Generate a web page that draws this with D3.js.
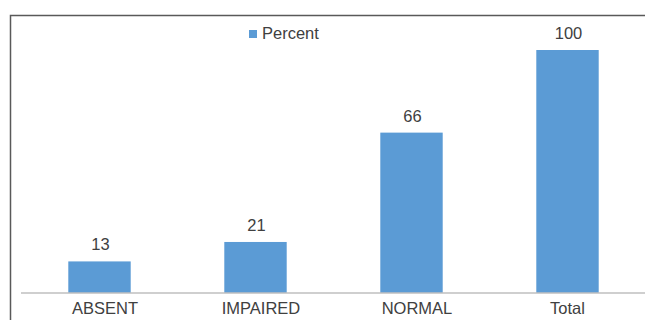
<!DOCTYPE html>
<html>
<head>
<meta charset="utf-8">
<script src="https://cdn.jsdelivr.net/npm/d3@7"></script>
<style>
  html, body { margin: 0; padding: 0; background: #fff; }
  svg { display: block; }
  text { font-family: "Liberation Sans", Arial, sans-serif; fill: #404040; }
</style>
</head>
<body>
<svg id="chart" width="645" height="320"></svg>
<script>
// Chart data
const categories = ["ABSENT", "IMPAIRED", "NORMAL", "Total"];
const percent = [13, 21, 66, 100];
const seriesName = "Percent";

const W = 645, H = 320;
const FONT = 16.5;
const svg = d3.select("#chart");

// Outer frame (left and top edges visible)
svg.append("path")
  .attr("d", `M10.5,${H} V15.5 H${W}`)
  .attr("fill", "none")
  .attr("stroke", "#595959")
  .attr("stroke-width", 1.5);

const x = d3.scaleBand()
  .domain(categories)
  .range([21.5, 645.5])
  .paddingInner(0.6)
  .paddingOuter(0.3);

const y = d3.scaleLinear()
  .domain([0, 100])
  .range([293, 50]);

// Bars
svg.append("g").selectAll("rect")
  .data(categories)
  .join("rect")
  .attr("x", d => x(d))
  .attr("width", x.bandwidth())
  .attr("y", (d, i) => y(percent[i]))
  .attr("height", (d, i) => y(0) - y(percent[i]))
  .attr("fill", "#5b9bd5");

// Value labels
svg.append("g").selectAll("text")
  .data(categories)
  .join("text")
  .attr("x", d => x(d) + x.bandwidth() / 2 + 1)
  .attr("y", (d, i) => y(percent[i]) - 11)
  .attr("text-anchor", "middle")
  .attr("font-size", FONT)
  .text((d, i) => percent[i]);

// Category axis
const axis = svg.append("g")
  .attr("transform", `translate(0,${y(0)})`)
  .call(d3.axisBottom(x).tickSize(0).tickPadding(9));
axis.select(".domain").attr("stroke", "#bfbfbf").attr("stroke-width", 1.5)
  .attr("d", `M21,0H${W}`);
axis.selectAll("text")
  .attr("font-size", FONT)
  .attr("font-family", "Liberation Sans, Arial, sans-serif")
  .attr("fill", "#404040")
  .attr("dx", (d, i) => i < categories.length - 1 ? 5.5 : 0);

// Legend
const legend = svg.append("g").attr("transform", "translate(249,30)");
legend.append("rect").attr("width", 8).attr("height", 8).attr("fill", "#5b9bd5");
legend.append("text").attr("x", 13).attr("y", 9).attr("font-size", FONT).text(seriesName);
</script>
</body>
</html>
